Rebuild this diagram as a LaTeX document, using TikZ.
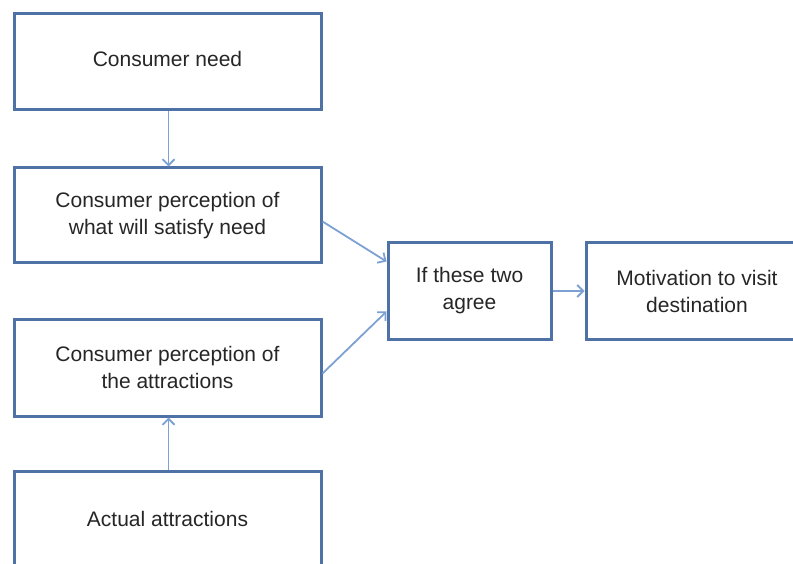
\documentclass[tikz,border=0pt]{standalone}
\usepackage{fontspec}
\setmainfont{Liberation Sans}
\usetikzlibrary{arrows.meta}
\definecolor{boxblue}{HTML}{4F72A6}
\definecolor{arrblue}{HTML}{7EA1D3}
\begin{document}
\begin{tikzpicture}[x=1pt,y=-1pt,
  box/.style={draw=boxblue,line width=3pt,fill=white,align=center,
    inner sep=0pt,font=\fontsize{21}{27}\selectfont,text=black!85},
  arr/.style={draw=arrblue,line width=1.8pt,-{Straight Barb[length=6pt,width=12pt]}}]
\clip (0,0) rectangle (793,564);
\useasboundingbox (0,0) rectangle (793,564);
\fill[white] (0,0) rectangle (793,564);
\node[box,minimum width=307,minimum height=96] (b1) at (167.5,62) {\raisebox{7pt}{Consumer need}};
\node[box,minimum width=307,minimum height=95] (b2) at (167.5,215.5) {Consumer perception of\\what will satisfy need};
\node[box,minimum width=307,minimum height=97] (b3) at (167.5,367.5) {Consumer perception of\\the attractions};
\node[box,minimum width=307,minimum height=96] (b4) at (167.5,519) {Actual attractions};
\node[box,minimum width=163,minimum height=96] (ag) at (469.5,291) {If these two\\agree};
\node[box,minimum width=222,minimum height=96] (mo) at (697,291) {Motivation to visit\\destination};
\draw[arr] ([xshift=1]b1.south) -- ([xshift=1]b2.north);
\draw[arr] ([xshift=1]b4.north) -- ([xshift=1]b3.south);
\draw[arr] ([yshift=-6]b2.east) -- ([yshift=-20]ag.north west);
\draw[arr] ([yshift=-6]b3.east) -- ([yshift=29]ag.south west);
\draw[arr] (ag.east) -- (mo.west);
\end{tikzpicture}
\end{document}
